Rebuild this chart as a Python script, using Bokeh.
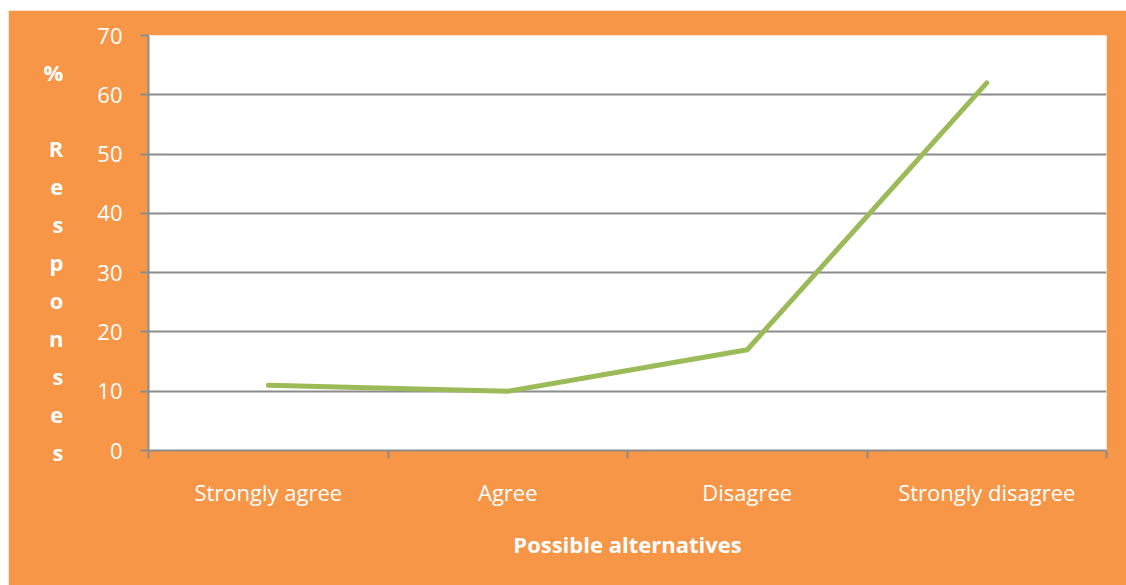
from bokeh.plotting import figure
from bokeh.models import Range1d, FixedTicker, Spacer
from bokeh.layouts import column, row
from bokeh.embed import file_html
from bokeh.resources import INLINE

categories = ["Strongly agree", "Agree", "Disagree", "Strongly disagree"]
responses = [11, 10, 17, 62]
y_ticks = [0, 10, 20, 30, 40, 50, 60, 70]
y_title_lines = ["", "%", "", "R", "e", "s", "p", "o", "n", "s", "e", "s"]
x_title = "Possible alternatives"

ORANGE = "#F79646"
GREEN = "#9BBB59"
GRID = "#8C8C8C"
FONT = "Open Sans"

W, H = 1118, 575
p = figure(width=W, height=H, output_backend="svg", toolbar_location=None,
           x_range=Range1d(0, len(categories)), y_range=Range1d(0, 70),
           min_border_left=140, min_border_right=20, min_border_top=25,
           min_border_bottom=135)
p.background_fill_color = "white"
p.border_fill_color = ORANGE
p.outline_line_color = None

xs = [i + 0.5 for i in range(len(categories))]
p.line(xs, responses, line_color=GREEN, line_width=5, line_cap="round", line_join="round")

# x axis
xa = p.xaxis[0]
xa.ticker = FixedTicker(ticks=xs, minor_ticks=list(range(len(categories) + 1)))
xa.major_label_overrides = {x: c for x, c in zip(xs, categories)}
xa.major_tick_out = 0
xa.major_tick_in = 0
xa.minor_tick_out = 8
xa.minor_tick_in = 0
xa.minor_tick_line_color = GRID
xa.minor_tick_line_width = 2
xa.axis_line_color = GRID
xa.axis_line_width = 2
xa.major_label_text_color = "white"
xa.major_label_text_font = FONT
xa.major_label_text_font_size = "22px"
xa.major_label_standoff = 18
xa.axis_label = x_title
xa.axis_label_text_color = "white"
xa.axis_label_text_font = FONT
xa.axis_label_text_font_style = "bold"
xa.axis_label_text_font_size = "22px"
xa.axis_label_standoff = 19

# y axis
ya = p.yaxis[0]
ya.ticker = FixedTicker(ticks=y_ticks)
ya.major_tick_out = 8
ya.major_tick_in = 0
ya.minor_tick_out = 0
ya.minor_tick_in = 0
ya.major_tick_line_color = GRID
ya.major_tick_line_width = 2
ya.axis_line_color = GRID
ya.axis_line_width = 2
ya.major_label_text_color = "white"
ya.major_label_text_font = FONT
ya.major_label_text_font_size = "22px"
ya.major_label_standoff = 18
# stacked vertical title: one character per line
ya.axis_label = "\n".join(y_title_lines)
ya.axis_label_orientation = "horizontal"
ya.axis_label_text_color = "white"
ya.axis_label_text_font = FONT
ya.axis_label_text_font_style = "bold"
ya.axis_label_text_font_size = "22px"
ya.axis_label_text_line_height = 1.268
ya.axis_label_text_align = "center"
ya.axis_label_standoff = 31

p.xgrid.grid_line_color = None
p.ygrid.grid_line_color = GRID
p.ygrid.grid_line_width = 2
p.ygrid.ticker = FixedTicker(ticks=y_ticks)

layout = column(Spacer(height=10), row(Spacer(width=8), p))
open("out.html", "w").write(file_html(layout, INLINE))
